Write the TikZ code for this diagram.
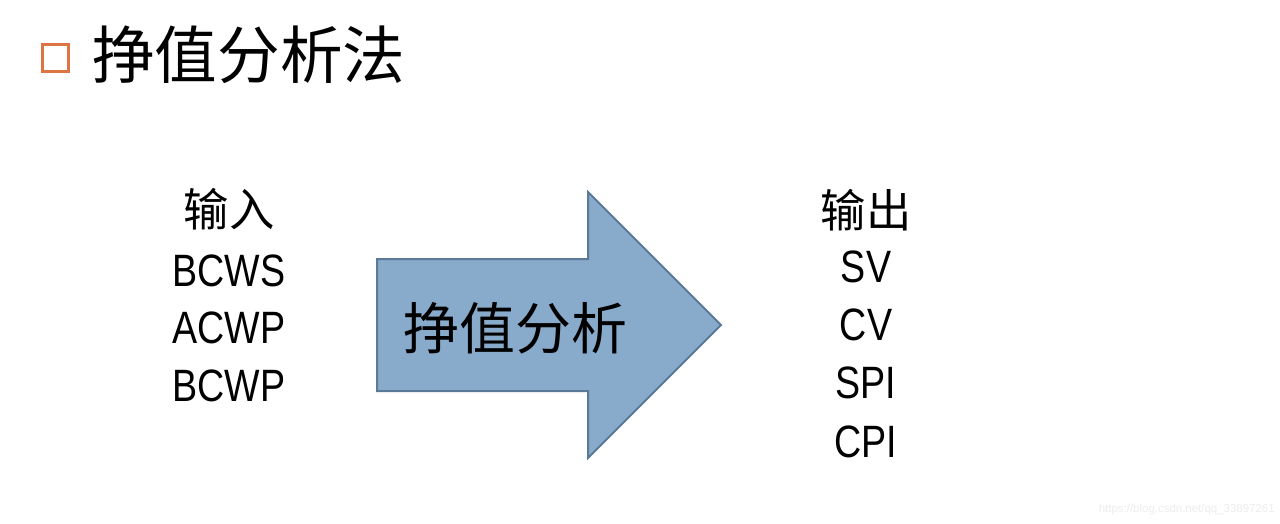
\documentclass[tikz,border=0pt]{standalone}
\usepackage{fontspec}
\newfontfamily\cjk{Noto Sans CJK SC}
\newfontfamily\lat[FakeStretch=0.83]{Liberation Sans}
\newfontfamily\wm{Liberation Sans}
\definecolor{bulletorange}{HTML}{DC7541}
\definecolor{arrowfill}{HTML}{88AACB}
\definecolor{arrowline}{HTML}{5B7A98}
\definecolor{wmgray}{HTML}{EDEDED}
\begin{document}
\begin{tikzpicture}[x=0.75pt,y=-0.75pt,
  cjkbig/.style={inner sep=0pt,font=\cjk\fontsize{47}{52}\selectfont},
  cjklabel/.style={inner sep=0pt,font=\cjk\fontsize{34}{40}\selectfont},
  latlabel/.style={inner sep=0pt,anchor=base,font=\lat\fontsize{34}{40}\selectfont},
  arrowtext/.style={inner sep=0pt,font=\cjk\fontsize{42}{48}\selectfont}]
\useasboundingbox[fill=white] (0,0) rectangle (1280,524);
% bullet and title
\draw[bulletorange,line width=2.3pt] (42.5,44.5) rectangle (68.5,71.5);
\coordinate (sq) at (55.5,58);
\node[cjkbig,anchor=west] (title) at (92,55) {挣值分析法};
% big arrow
\draw[fill=arrowfill,draw=arrowline,line width=1.5pt,line join=miter]
  (377,259) -- (588,259) -- (588,192) -- (721,325) -- (588,458) -- (588,391) -- (377,391) -- cycle;
\node[arrowtext] (proc) at (515,328) {挣值分析};
% inputs
\node[cjklabel] (in0) at (229,209) {输入};
\node[latlabel] (in1) at (229,286) {BCWS};
\node[latlabel] (in2) at (229,343) {ACWP};
\node[latlabel] (in3) at (229,401) {BCWP};
% outputs
\node[cjklabel] (out0) at (866,210) {输出};
\node[latlabel] (out1) at (866,282) {SV};
\node[latlabel] (out2) at (866,340) {CV};
\node[latlabel] (out3) at (866,398) {SPI};
\node[latlabel] (out4) at (866,457) {CPI};
% watermark
\node[inner sep=0pt,anchor=east,text=wmgray,font=\wm\fontsize{8.6}{10}\selectfont] (wm) at (1275,510) {https://blog.csdn.net/qq\_33897261};
\end{tikzpicture}
\end{document}
